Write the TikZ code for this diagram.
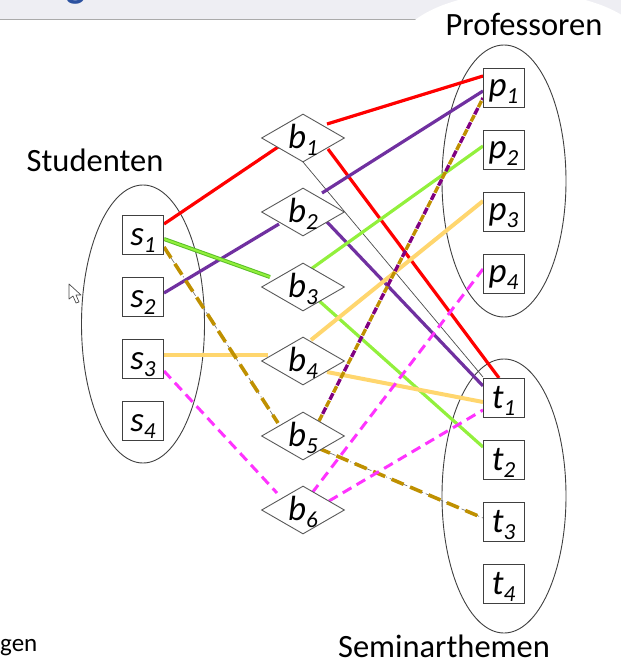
\documentclass[tikz,border=0pt]{standalone}
\usepackage{fontspec}
\setmainfont{Carlito}
\usetikzlibrary{shapes.geometric,calc}
\definecolor{cred}{RGB}{255,0,0}
\definecolor{cpurple}{RGB}{112,48,160}
\definecolor{cgreen}{RGB}{146,240,60}
\definecolor{cgreendark}{RGB}{90,190,40}
\definecolor{corange}{RGB}{255,214,110}
\definecolor{cbrown}{RGB}{191,144,0}
\definecolor{cmag}{RGB}{255,51,255}
\definecolor{cdpurple}{RGB}{128,0,128}
\definecolor{band}{RGB}{238,238,243}
\definecolor{bandline}{RGB}{170,170,170}
\definecolor{titleblue}{RGB}{44,82,160}
\newcommand{\itemlbl}[3]{\smash{\raisebox{-#3pt}{\fontsize{35}{35}\selectfont\itshape #1\raisebox{-7pt}{\fontsize{23}{23}\selectfont #2}}}}
\begin{document}
\begin{tikzpicture}[x=1pt,y=-1pt,
  itembox/.style={draw=black!75,fill=white,line width=0.9pt,minimum width=41pt,minimum height=39pt,inner sep=0pt},
  relnode/.style={diamond,draw=black!65,fill=white,line width=0.9pt,minimum width=83pt,minimum height=48pt,inner sep=0pt},
  setell/.style={draw=black!75,line width=0.9pt},
  grouplabel/.style={font=\fontsize{32.5}{32.5}\selectfont,inner sep=0pt,anchor=base},
  redl/.style={cred,line width=3.2pt},
  purl/.style={cpurple,line width=3.2pt},
  grnl/.style={cgreen,line width=3.2pt},
  orgl/.style={corange,line width=4pt},
  magl/.style={cmag,line width=3pt,dash pattern=on 10pt off 6pt},
  brnl/.style={cbrown,line width=3.6pt,dash pattern=on 13pt off 7pt},
  thindd/.style={black!60,line width=0.6pt,dash pattern=on 6pt off 3pt on 1pt off 3pt},
  thinl/.style={black!70,line width=0.7pt}]
\useasboundingbox (0,0) rectangle (621,664);
\begin{scope}
\clip (0,0) rectangle (621,664);
% header band
\fill[band] (0,0) rectangle (621,19);
\draw[bandline,line width=1.5pt] (0,19.5) -- (430,19.5);
\fill[white] (522,50) ellipse [x radius=125, y radius=58];
\node[text=titleblue,font=\fontsize{40}{40}\selectfont\bfseries,anchor=base,inner sep=0pt] (title) at (76,-3) {g};
\end{scope}

% set ellipses
\draw[setell] (143,324) ellipse [x radius=61.5, y radius=139];
\draw[setell] (504,181) ellipse [x radius=62, y radius=136];
\draw[setell] (504,496) ellipse [x radius=62, y radius=137];

% nodes (coordinates for connectors)
\coordinate (s1) at (143,235);
\coordinate (s2) at (143,297);
\coordinate (s3) at (143,359);
\coordinate (s4) at (143,421);
\coordinate (b1) at (303,138);
\coordinate (b2) at (303,212);
\coordinate (b3) at (303,287);
\coordinate (b4) at (303,361);
\coordinate (b5) at (303,436);
\coordinate (b6) at (303,510);
\coordinate (p1) at (503.5,88);
\coordinate (p2) at (503.5,150);
\coordinate (p3) at (503.5,212);
\coordinate (p4) at (503.5,274);
\coordinate (t1) at (503.5,398);
\coordinate (t2) at (503.5,460);
\coordinate (t3) at (503.5,522);
\coordinate (t4) at (503.5,584);

% thin line b1 - t1
\draw[thinl] ($(b1)+(0,24)$) -- ($(t1)+(-20.5,-21)$);
% red
\draw[redl] ($(s1)+(21,-11)$) -- ($(b1)+(-25,9)$);
\draw[redl] ($(b1)+(24,-14)$) -- ($(p1)+(-20.5,-12)$);
\draw[redl] ($(b1)+(25,11)$) -- ($(t1)+(-4.5,-20)$);
% purple
\draw[purl] ($(s2)+(21,-4)$) -- ($(b2)+(-24,12)$);
\draw[purl] ($(b2)+(19,-19)$) -- ($(p1)+(-20.5,3)$);
\draw[purl] ($(b2)+(24,10)$) -- ($(t1)+(-20.5,-12)$);
% green
\draw[cgreendark,line width=4pt] ($(s1)+(21,4)$) -- ($(b3)+(-33,-10)$);
\draw[cgreen,line width=2pt] ($(s1)+(21,4)$) -- ($(b3)+(-33,-10)$);
\draw[grnl] ($(b3)+(8,-18)$) -- ($(p2)+(-20.5,-4)$);
\draw[grnl] ($(b3)+(14,12)$) -- ($(t2)+(-20.5,-13)$);
% orange
\draw[orgl] ($(s3)+(21,-4)$) -- ($(b4)+(-35,-6)$);
\draw[orgl] ($(b4)+(8,-21)$) -- ($(p3)+(-20.5,-11)$);
\draw[orgl] ($(b4)+(24,11)$) -- ($(t1)+(-20.5,4)$);
% brown dashed (thin dash-dot beneath)
\draw[thindd] ($(s1)+(21,12)$) -- ($(b5)+(-25,-13)$);
\draw[brnl] ($(s1)+(21,12)$) -- ($(b5)+(-25,-13)$);
\draw[cbrown,line width=3.4pt,dash pattern=on 7pt off 9pt] ($(b5)+(16,-15)$) -- ($(p1)+(-20.5,10)$);
\draw[cdpurple,line width=3.4pt,dash pattern=on 7pt off 9pt,dash phase=8pt] ($(b5)+(16,-15)$) -- ($(p1)+(-20.5,10)$);
\draw[thindd] ($(b5)+(15,12)$) -- ($(t3)+(-20.5,-4)$);
\draw[brnl] ($(b5)+(15,12)$) -- ($(t3)+(-20.5,-4)$);
% magenta
\draw[magl] ($(s3)+(21,12)$) -- ($(b6)+(-26,-17)$);
\draw[magl] ($(b6)+(9,-17)$) -- ($(p4)+(-20.5,-5)$);
\draw[magl] ($(b6)+(26,-9)$) -- ($(t1)+(-20.5,12)$);

% boxes
\node[itembox] (ns1) at (s1) {\itemlbl{s}{1}{10}};
\node[itembox] (ns2) at (s2) {\itemlbl{s}{2}{10}};
\node[itembox] (ns3) at (s3) {\itemlbl{s}{3}{10}};
\node[itembox] (ns4) at (s4) {\itemlbl{s}{4}{10}};
\node[relnode] (nb1) at (b1) {\itemlbl{b}{1}{10}};
\node[relnode] (nb2) at (b2) {\itemlbl{b}{2}{10}};
\node[relnode] (nb3) at (b3) {\itemlbl{b}{3}{10}};
\node[relnode] (nb4) at (b4) {\itemlbl{b}{4}{10}};
\node[relnode] (nb5) at (b5) {\itemlbl{b}{5}{10}};
\node[relnode] (nb6) at (b6) {\itemlbl{b}{6}{10}};
\node[itembox] (np1) at (p1) {\itemlbl{p}{1}{8}};
\node[itembox] (np2) at (p2) {\itemlbl{p}{2}{8}};
\node[itembox] (np3) at (p3) {\itemlbl{p}{3}{8}};
\node[itembox] (np4) at (p4) {\itemlbl{p}{4}{8}};
\node[itembox] (nt1) at (t1) {\itemlbl{t}{1}{10}};
\node[itembox] (nt2) at (t2) {\itemlbl{t}{2}{10}};
\node[itembox] (nt3) at (t3) {\itemlbl{t}{3}{10}};
\node[itembox] (nt4) at (t4) {\itemlbl{t}{4}{10}};

% group labels
\node[grouplabel] (lstud) at (95,171) {Studenten};
\node[grouplabel] (lprof) at (524,35) {Professoren};
\node[grouplabel] (lsem) at (444,657) {Seminarthemen};
\node[font=\fontsize{25}{25}\selectfont,inner sep=0pt,anchor=base west] (lgen) at (0,651) {gen};

% mouse cursor
\draw[black!70,fill=white,line width=0.7pt,line join=round] (69,284) -- (69,299) -- (73,296) -- (76,303) -- (79,302) -- (76,295) -- (81,295) -- cycle;
\end{tikzpicture}
\end{document}
